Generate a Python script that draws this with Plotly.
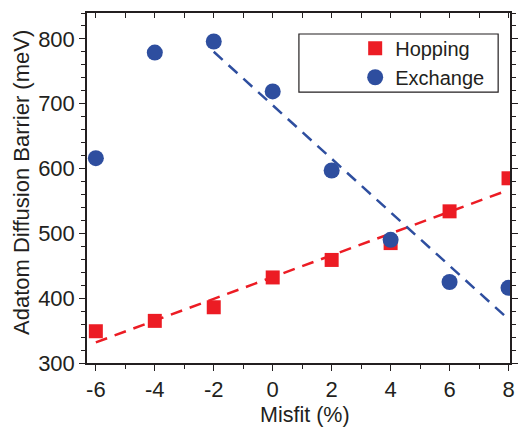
import numpy as np
import plotly.graph_objects as go

misfit = [-6, -4, -2, 0, 2, 4, 6, 8]
hopping = [349, 365, 386, 432, 459, 485, 534, 585]
exchange = [616, 779, 796, 719, 597, 490, 425, 416]
x_ticks = [-6, -4, -2, 0, 2, 4, 6, 8]
x_ticktext = ["-6", "-4", "-2", "0", "2", "4", "6", "8"]
y_ticks = [300, 400, 500, 600, 700, 800]
x_title = "Misfit (%)"
y_title = "Adatom Diffusion Barrier (meV)"

RED = "#EC1C24"
BLUE = "#2E4E9F"
INK = "#231F20"
FONT = "Liberation Sans, Arial, sans-serif"

# linear fits
hp = np.polyfit(misfit, hopping, 1)
hx = np.array([misfit[0], misfit[-1]])
hy = np.polyval(hp, hx)

ex_sub_x = misfit[2:]
ex_sub_y = exchange[2:]
ep = np.polyfit(ex_sub_x, ex_sub_y, 1)
ex = np.array([ex_sub_x[0], ex_sub_x[-1]])
ey = np.polyval(ep, ex)

fig = go.Figure()
fig.add_trace(go.Scatter(x=hx, y=hy, mode="lines", showlegend=False,
                         line=dict(color=RED, width=2.5, dash="12px,8px")))
fig.add_trace(go.Scatter(x=ex, y=ey, mode="lines", showlegend=False,
                         line=dict(color=BLUE, width=2.5, dash="12px,8px")))
fig.add_trace(go.Scatter(x=misfit, y=hopping, mode="markers", name="Hopping",
                         marker=dict(symbol="square", size=14, color=RED)))
fig.add_trace(go.Scatter(x=misfit, y=exchange, mode="markers", name="Exchange",
                         marker=dict(symbol="circle", size=16, color=BLUE)))
# invisible trace for mirrored axes
fig.add_trace(go.Scatter(x=[0], y=[500], xaxis="x2", yaxis="y2", mode="markers",
                         marker=dict(opacity=0), showlegend=False, hoverinfo="skip"))

xr = [-6.3, 8.05]
yr = [300, 840]

common = dict(showline=True, linecolor=INK, linewidth=1.5, showgrid=False,
              zeroline=False, automargin=False, tickcolor=INK)

fig.update_layout(
    width=519, height=431,
    margin=dict(l=87, r=9, t=13, b=68, autoexpand=False),
    paper_bgcolor="white", plot_bgcolor="white",
    font=dict(family=FONT, color=INK, size=22),
    xaxis=dict(range=xr, tickvals=x_ticks, ticktext=x_ticktext, ticks="outside",
               ticklen=6, tickwidth=1.2,
               minor=dict(dtick=1, ticks="outside", ticklen=4, tickwidth=1.2, tickcolor=INK),
               tickfont=dict(size=22), **common),
    yaxis=dict(range=yr, tickvals=y_ticks, ticks="outside", ticklen=6, tickwidth=1.2,
               minor=dict(dtick=20, tick0=300, ticks="outside", ticklen=4, tickwidth=1.2,
                          tickcolor=INK),
               tickfont=dict(size=22), **common),
    xaxis2=dict(range=xr, overlaying="x", side="top", tickvals=x_ticks, ticks="inside",
                ticklen=5, tickwidth=1.2, showticklabels=False,
                minor=dict(dtick=1, ticks="inside", ticklen=5, tickwidth=1.2, tickcolor=INK),
                **common),
    yaxis2=dict(range=yr, overlaying="y", side="right", tickvals=y_ticks, ticks="outside",
                ticklen=6, tickwidth=1.2, showticklabels=False,
                minor=dict(dtick=20, tick0=300, ticks="outside", ticklen=4, tickwidth=1.2,
                           tickcolor=INK),
                **common),
    legend=dict(x=0.634, y=0.955, xanchor="left", yanchor="top",
                bgcolor="rgba(0,0,0,0)", borderwidth=0,
                font=dict(size=20, family=FONT), tracegroupgap=0),
    shapes=[dict(type="rect", xref="paper", yref="paper",
                 x0=0.501, x1=0.972, y0=0.774, y1=0.94,
                 line=dict(color=INK, width=1.2), fillcolor="rgba(0,0,0,0)")],
    annotations=[
        dict(text=x_title, xref="paper", yref="paper", x=0.5, y=0, xshift=6, yshift=-52,
             showarrow=False, xanchor="center", yanchor="middle",
             font=dict(size=21.5, family=FONT, color=INK)),
        dict(text=y_title, xref="paper", yref="paper", x=0, y=0.5, xshift=-66, yshift=5,
             textangle=-90, showarrow=False, xanchor="center", yanchor="middle",
             font=dict(size=22, family=FONT, color=INK)),
    ],
    showlegend=True,
)

fig.write_html("out.html", config={"displayModeBar": False},
               post_script="document.body.style.margin='0';document.body.style.overflow='hidden';")
